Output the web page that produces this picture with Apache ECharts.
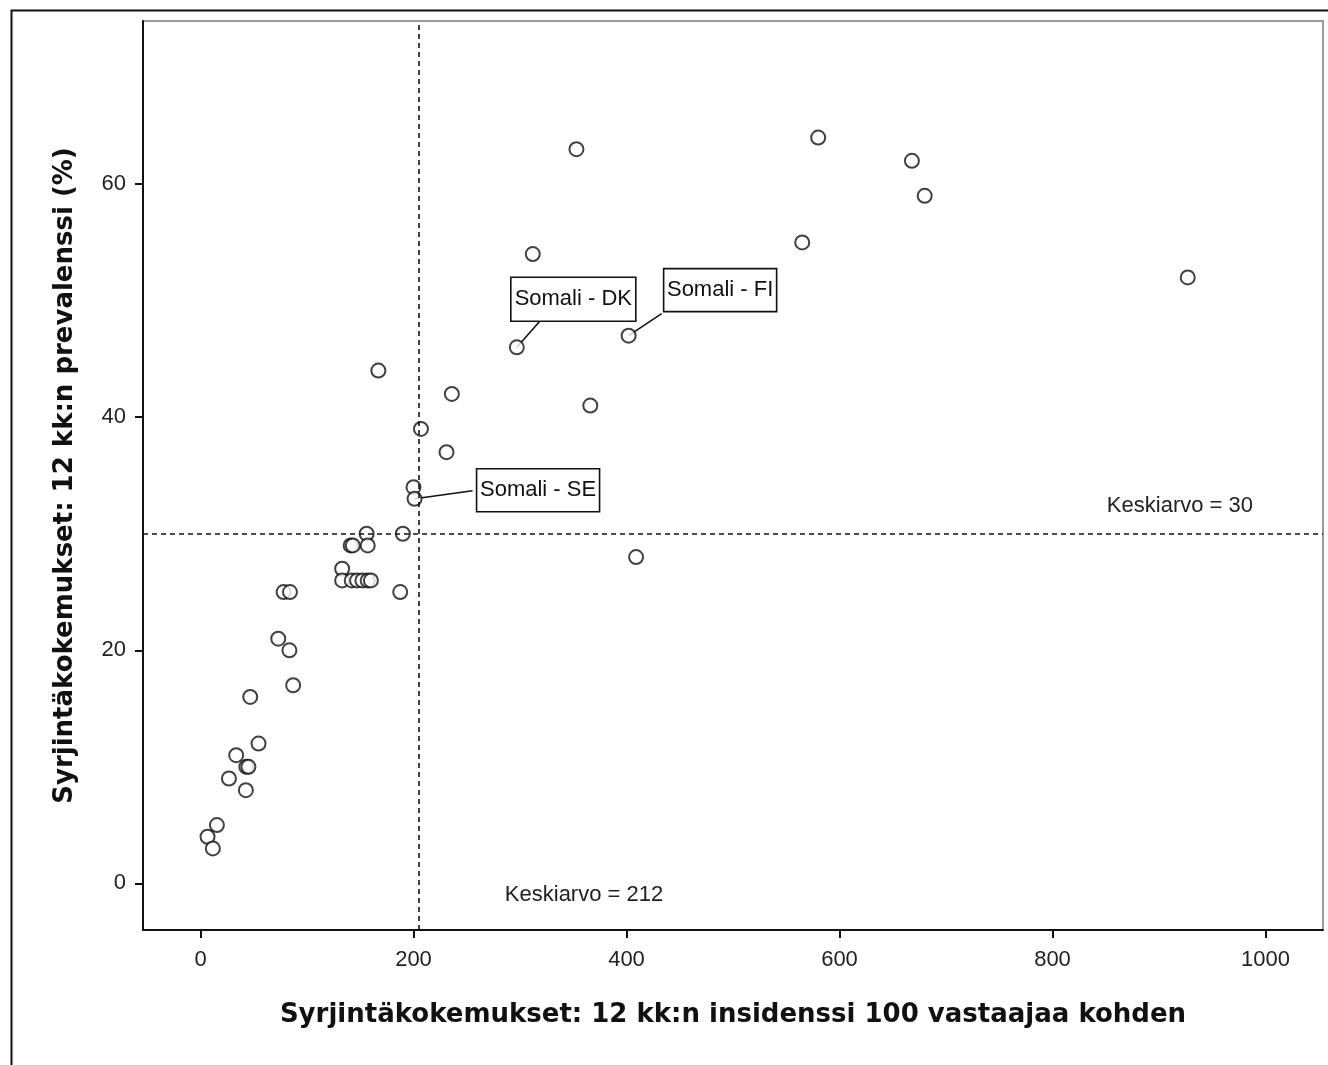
<!DOCTYPE html>
<html>
<head>
<meta charset="utf-8">
<script src="https://cdn.jsdelivr.net/npm/echarts@6/dist/echarts.min.js"></script>
<style>
html,body{margin:0;padding:0;background:#fff;}
#chart{width:1328px;height:1065px;}
</style>
</head>
<body>
<div id="chart"></div>
<script>
// ---- data ----
const incidence = [580, 353, 668, 680, 565, 312, 927, 167, 236, 366, 207, 231, 200, 190, 156, 409,
  141, 143, 157, 133, 133, 142, 147, 152, 157, 160, 187.5, 78, 84, 73, 83.5, 87, 46.7, 54.5,
  33.5, 43, 45, 26.7, 42.6, 15.4, 6.6, 11.6];
const prevalence = [64, 63, 62, 59, 55, 54, 52, 44, 42, 41, 39, 37, 34, 30, 30, 28,
  29, 29, 29, 27, 26, 26, 26, 26, 26, 26, 25, 25, 25, 21, 20, 17, 16, 12,
  11, 10, 10, 9, 8, 5, 4, 3];
const somaliNames = ['Somali - DK', 'Somali - FI', 'Somali - SE'];
const somaliIncidence = [297, 402, 201];
const somaliPrevalence = [46, 47, 33];
const meanIncidence = 212;      // label value
const meanIncidenceLine = 205;  // where the reference line is drawn in the picture
const meanPrevalence = 30;
const xTicks = [0, 200, 400, 600, 800, 1000];
const yTicks = [0, 20, 40, 60];
const xTitle = 'Syrjintäkokemukset: 12 kk:n insidenssi 100 vastaajaa kohden';
const yTitle = 'Syrjintäkokemukset: 12 kk:n prevalenssi (%)';

// ---- chart ----
const chart = echarts.init(document.getElementById('chart'), null, {renderer: 'canvas'});
const allPts = incidence.concat(somaliIncidence).map((x, i) => [x, prevalence.concat(somaliPrevalence)[i]]);
const somPts = somaliIncidence.map((x, i) => [x, somaliPrevalence[i]]);

// callout box placement relative to the point (pixels): box left/top, size, leader end
const callout = [
  {bx: -6, by: -70, w: 125, h: 44, lx: 23, ly: -26},
  {bx: 35, by: -67, w: 113, h: 43, lx: 33, ly: -22},
  {bx: 62, by: -30, w: 123, h: 43, lx: 58, ly: -8}
];

const FONT = 'Liberation Sans, Arial, sans-serif';
const symbolStyle = {color: '#fff', borderColor: '#111', borderWidth: 2};
const tickFont = {fontFamily: FONT, fontSize: 22, color: '#222'};
const titleFont = {fontFamily: 'DejaVu Sans, sans-serif', fontSize: 26, fontWeight: 'bold', color: '#111'};

chart.setOption({
  animation: false,
  backgroundColor: '#fff',
  grid: {left: 143, top: 21, right: 5, bottom: 135, show: true, borderColor: '#999', borderWidth: 2, outerBoundsMode: 'none'},
  xAxis: {
    type: 'value', min: -54, max: 1054,
    name: xTitle, nameLocation: 'middle', nameGap: 72, nameTextStyle: titleFont,
    axisLine: {show: true, onZero: false, lineStyle: {color: '#111', width: 2}},
    axisTick: {show: true, length: 8, customValues: xTicks, lineStyle: {color: '#111', width: 2}},
    axisLabel: Object.assign({margin: 19, customValues: xTicks, formatter: v => String(v)}, tickFont),
    splitLine: {show: false}
  },
  yAxis: {
    type: 'value', min: -4, max: 74,
    name: yTitle, nameLocation: 'middle', nameGap: 65, nameTextStyle: titleFont,
    axisLine: {show: true, onZero: false, lineStyle: {color: '#111', width: 2}},
    axisTick: {show: true, length: 8, customValues: yTicks, lineStyle: {color: '#111', width: 2}},
    axisLabel: Object.assign({margin: 17, customValues: yTicks, formatter: v => String(v)}, tickFont),
    splitLine: {show: false}
  },
  series: [
    {
      type: 'custom', z: 2, data: somPts,
      renderItem: function (params, api) {
        const pt = api.coord([api.value(0), api.value(1)]);
        const c = callout[params.dataIndex];
        return {
          type: 'group',
          children: [
            {type: 'line', shape: {x1: pt[0], y1: pt[1], x2: pt[0] + c.lx, y2: pt[1] + c.ly},
              style: {stroke: '#111', lineWidth: 1.6}},
            {type: 'rect', shape: {x: pt[0] + c.bx, y: pt[1] + c.by, width: c.w, height: c.h},
              style: {fill: '#fff', stroke: '#111', lineWidth: 1.6}},
            {type: 'text', x: pt[0] + c.bx + c.w / 2, y: pt[1] + c.by + c.h / 2,
              style: {text: somaliNames[params.dataIndex], align: 'center', verticalAlign: 'middle',
                fontFamily: FONT, fontSize: 22, fill: '#111'}}
          ]
        };
      }
    },
    {
      type: 'scatter', data: allPts, symbol: 'circle', symbolSize: 14, itemStyle: symbolStyle, z: 3,
      markLine: {
        silent: true, symbol: 'none', animation: false,
        lineStyle: {color: '#111', width: 1.6, type: [5, 4]},
        label: {show: false},
        data: [{xAxis: meanIncidenceLine}, {yAxis: meanPrevalence}]
      }
    }
  ]
});

// mean annotations positioned from the axes' scales
const pH = chart.convertToPixel({gridIndex: 0}, [1054, meanPrevalence]);
const pV = chart.convertToPixel({gridIndex: 0}, [meanIncidenceLine, -4]);
chart.setOption({
  graphic: [
    {type: 'rect', left: 9, top: 8, shape: {width: 1400, height: 1100}, style: {fill: 'none', stroke: '#111', lineWidth: 2}, silent: true},
    {type: 'text', x: pH[0] - 70, y: pH[1] - 28, style: {text: 'Keskiarvo = ' + meanPrevalence, align: 'right', verticalAlign: 'middle', fontFamily: FONT, fontSize: 22, fill: '#222'}},
    {type: 'text', x: pV[0] + 86, y: pV[1] - 35, style: {text: 'Keskiarvo = ' + meanIncidence, align: 'left', verticalAlign: 'middle', fontFamily: FONT, fontSize: 22, fill: '#222'}}
  ]
});
</script>
</body>
</html>
